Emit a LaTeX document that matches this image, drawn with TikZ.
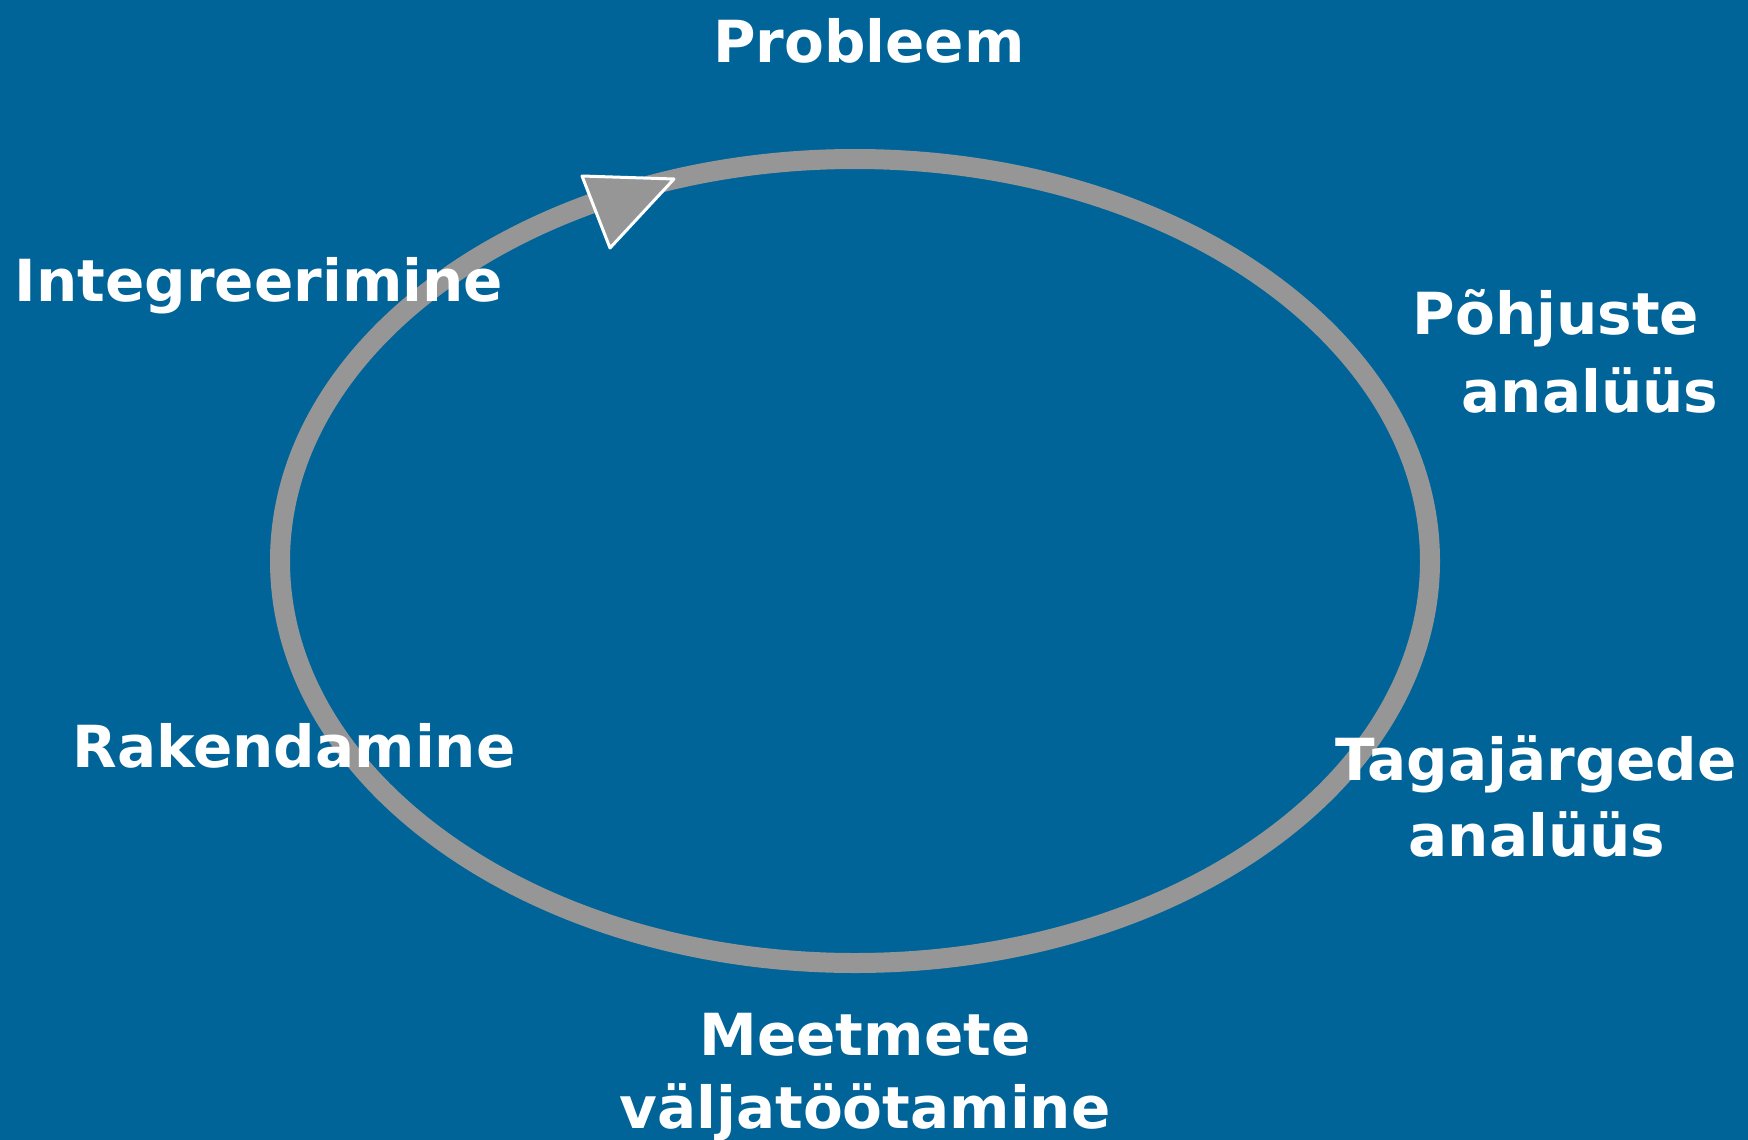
\documentclass[tikz,border=0pt]{standalone}
\usepackage{fontspec}
\setmainfont{DejaVu Sans}
\usepackage{tikz}
\definecolor{bgblue}{RGB}{0,100,153}
\definecolor{ringgray}{RGB}{150,150,150}
\tikzset{lbl/.style={text=white,font=\bfseries\fontsize{58}{70}\selectfont,inner sep=0pt,anchor=base}}
\def\ring{\draw [ringgray,line width=20pt] (855,561) ellipse [x radius=575,y radius=402];}
\def\tip{\filldraw [fill=ringgray,draw=white,line width=3pt,line join=round] (582,176) -- (674,179) -- (610,248) -- cycle;}

\begin{document}
\begin{tikzpicture}[x=1pt,y=-1pt]
  \fill [bgblue] (0,0) rectangle (1748,1140);
  \useasboundingbox (0,0) rectangle (1748,1140);
\ring
\tip
\node [lbl] (probleem) at (869,63) {Probleem};
\node [lbl] (pohjuste) at (1556,334) {Põhjuste};
\node [lbl] (pohjuste2) at (1590,412) {analüüs};
\node [lbl] (tagajargede) at (1536,780) {Tagajärgede};
\node [lbl] (tagajargede2) at (1537,856) {analüüs};
\node [lbl] (meetmete) at (865,1055) {Meetmete};
\node [lbl] (meetmete2) at (865,1128) {väljatöötamine};
\node [lbl] (rakendamine) at (294,767) {Rakendamine};
\node [lbl] (integreerimine) at (259,301) {Integreerimine};
\end{tikzpicture}
\end{document}
